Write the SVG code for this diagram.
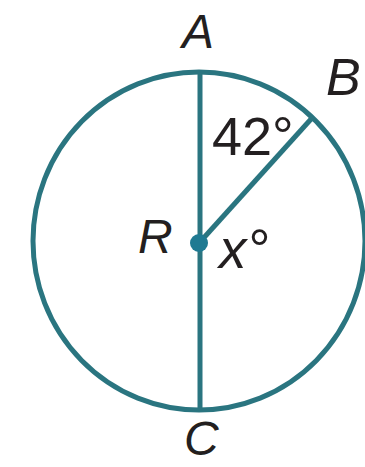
<svg xmlns="http://www.w3.org/2000/svg" width="365" height="467" viewBox="0 0 365 467">
<style>
.s{fill:none;stroke:#2a7580;stroke-width:5}
.t{font-family:"Liberation Sans",Arial,sans-serif;fill:#231f20}
.i{font-style:italic}
</style>
<rect width="365" height="467" fill="#ffffff"/>
<g id="circle"><ellipse class="s" cx="199" cy="241" rx="166" ry="169"/></g>
<g id="connectors">
<line class="s" x1="200" y1="72" x2="200" y2="410" stroke-width="4.5"/>
<line class="s" x1="200" y1="242" x2="312" y2="118" stroke-width="4.5"/>
</g>
<g id="R"><circle cx="199" cy="243" r="9" fill="#1f7a92"/><text class="t i" x="138" y="253" font-size="48">R</text></g>
<g id="A"><text class="t i" x="182" y="48" font-size="48">A</text></g>
<g id="B"><text class="t i" x="326" y="95" font-size="52">B</text></g>
<g id="C"><text class="t i" x="184" y="455" font-size="48">C</text></g>
<g id="angle42"><text class="t" x="212" y="155" font-size="54">42°</text></g>
<g id="anglex"><text class="t i" x="219" y="268" font-size="55">x°</text></g>
</svg>
